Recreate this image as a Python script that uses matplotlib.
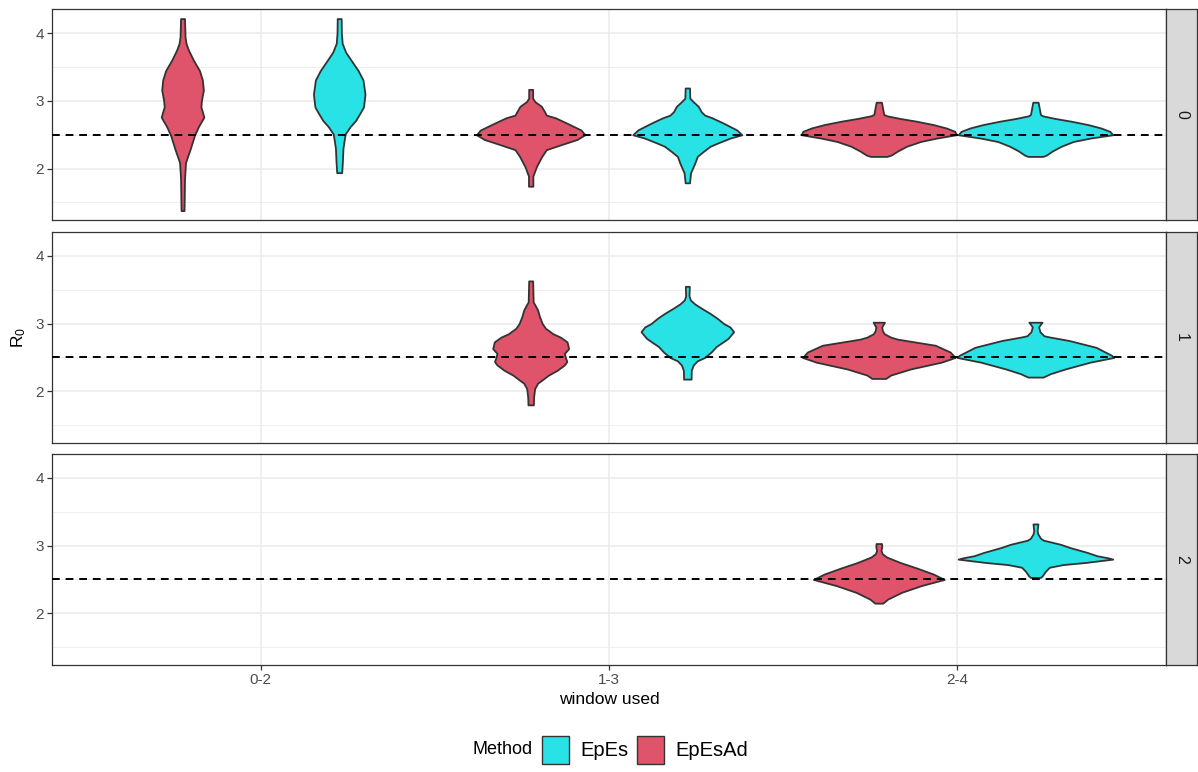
import numpy as np
import matplotlib.pyplot as plt
from matplotlib.patches import Rectangle

plt.rcParams['font.family'] = ['Liberation Sans', 'DejaVu Sans']

windows = ["0-2", "1-3", "2-4"]
lags = ["0", "1", "2"]
methods = ["EpEs", "EpEsAd"]
colors = {"EpEs": "#28E2E5", "EpEsAd": "#DF536B"}
true_r0 = 2.5

# violin outlines: R0 level and density (half width, px)
lag0_02_epesad_y = [1.38, 1.55, 1.85, 2.09, 2.28, 2.49, 2.62, 2.76, 2.84, 2.91, 3.0, 3.16, 3.31, 3.45, 3.6, 3.75, 3.85, 3.95, 4.215]
lag0_02_epesad_d = [1.5, 1.7, 2.0, 3.0, 7.5, 12, 16, 21.5, 20, 18.5, 19, 21, 20, 17, 11, 6, 3.5, 2.5, 2]
lag0_02_epes_y = [1.94, 2.1, 2.3, 2.42, 2.51, 2.62, 2.71, 2.82, 2.91, 3.1, 3.31, 3.45, 3.6, 3.72, 3.85, 4.0, 4.215]
lag0_02_epes_d = [2.5, 3.2, 3.8, 5, 6, 11, 16.5, 21, 24.5, 26, 24, 19, 12, 6.5, 3, 2.2, 2]

lag0_13_epesad_y = [1.74, 1.89, 2.03, 2.18, 2.28, 2.35, 2.43, 2.5, 2.57, 2.67, 2.75, 2.79, 2.84, 2.92, 2.99, 3.04, 3.17]
lag0_13_epesad_d = [2.2, 2.2, 5.8, 11.2, 15.8, 30, 46.7, 54.7, 50.8, 36.7, 25, 15.8, 14, 10.8, 4.2, 2, 2]
lag0_13_epes_y = [1.79, 1.94, 2.08, 2.18, 2.25, 2.33, 2.38, 2.45, 2.5, 2.57, 2.67, 2.75, 2.79, 2.84, 2.92, 2.99, 3.04, 3.19]
lag0_13_epes_d = [2.2, 3.3, 7.5, 10, 15.8, 23, 31, 43, 55, 50, 36.7, 25, 17.5, 14, 11, 5.8, 2.5, 2.2]

lag0_24_epesad_y = [2.18, 2.2, 2.26, 2.33, 2.4, 2.45, 2.5, 2.55, 2.6, 2.65, 2.7, 2.74, 2.78, 2.8, 2.98]
lag0_24_epesad_d = [8.3, 12.5, 19, 28, 42, 58, 78, 76.7, 68, 55, 38, 21.7, 8, 5, 2.7]
lag0_24_epes_y = [2.18, 2.2, 2.26, 2.33, 2.4, 2.45, 2.5, 2.55, 2.6, 2.65, 2.7, 2.74, 2.78, 2.8, 2.98]
lag0_24_epes_d = [7.5, 11, 17, 26, 38, 55, 78, 75, 66, 53, 36, 20, 7, 5, 2.7]

lag1_13_epesad_y = [1.80, 1.92, 2.04, 2.12, 2.17, 2.24, 2.31, 2.39, 2.44, 2.5, 2.56, 2.63, 2.73, 2.8, 2.85, 2.93, 3.0, 3.1, 3.2, 3.27, 3.32, 3.63]
lag1_13_epesad_d = [2.7, 3, 4, 7, 11.7, 18, 26.7, 34, 36.5, 35, 34, 38.3, 36.7, 30, 22.5, 15, 11.7, 9, 7, 4.5, 2.5, 2]
lag1_13_epes_y = [2.18, 2.31, 2.39, 2.45, 2.5, 2.58, 2.66, 2.78, 2.88, 2.95, 3.0, 3.08, 3.15, 3.22, 3.29, 3.35, 3.41, 3.55]
lag1_13_epes_d = [3.8, 4, 6, 10, 17.5, 24, 29, 41, 46.7, 43, 36.7, 30, 23, 15, 7.5, 3, 1.7, 2]

lag1_24_epesad_y = [2.19, 2.24, 2.33, 2.43, 2.5, 2.58, 2.68, 2.77, 2.8, 2.85, 2.9, 2.95, 2.99, 3.02]
lag1_24_epesad_d = [7, 12, 32, 63, 77, 72, 57, 19, 12, 5.5, 3.5, 3, 4.5, 5.7]
lag1_24_epes_y = [2.21, 2.26, 2.33, 2.43, 2.5, 2.53, 2.65, 2.75, 2.8, 2.82, 2.88, 2.95, 2.99, 3.02]
lag1_24_epes_d = [7.6, 15, 30, 55, 79, 77, 61, 34, 15, 8.6, 4.5, 3.2, 5, 6.7]

lag2_24_epesad_y = [2.15, 2.21, 2.31, 2.41, 2.5, 2.58, 2.67, 2.75, 2.83, 2.88, 2.93, 2.98, 3.03]
lag2_24_epesad_d = [4, 9, 23, 43, 66, 55, 38, 21.7, 8, 3.5, 2.2, 3, 2.8]
lag2_24_epes_y = [2.53, 2.55, 2.62, 2.68, 2.72, 2.75, 2.8, 2.82, 2.85, 2.9, 2.97, 3.02, 3.08, 3.11, 3.17, 3.22, 3.32]
lag2_24_epes_d = [5, 6.7, 10, 14, 28, 50, 78, 73, 62, 52, 35, 25, 8, 5, 2.5, 1.7, 2.5]

violins = [
    ("0", "0-2", "EpEsAd", lag0_02_epesad_y, lag0_02_epesad_d),
    ("0", "0-2", "EpEs", lag0_02_epes_y, lag0_02_epes_d),
    ("0", "1-3", "EpEsAd", lag0_13_epesad_y, lag0_13_epesad_d),
    ("0", "1-3", "EpEs", lag0_13_epes_y, lag0_13_epes_d),
    ("0", "2-4", "EpEsAd", lag0_24_epesad_y, lag0_24_epesad_d),
    ("0", "2-4", "EpEs", lag0_24_epes_y, lag0_24_epes_d),
    ("1", "1-3", "EpEsAd", lag1_13_epesad_y, lag1_13_epesad_d),
    ("1", "1-3", "EpEs", lag1_13_epes_y, lag1_13_epes_d),
    ("1", "2-4", "EpEsAd", lag1_24_epesad_y, lag1_24_epesad_d),
    ("1", "2-4", "EpEs", lag1_24_epes_y, lag1_24_epes_d),
    ("2", "2-4", "EpEsAd", lag2_24_epesad_y, lag2_24_epesad_d),
    ("2", "2-4", "EpEs", lag2_24_epes_y, lag2_24_epes_d),
]

W, H = 1198, 772
fig = plt.figure(figsize=(W / 100, H / 100), dpi=100)

# shared y range with ggplot-like 5% expansion
all_y = np.concatenate([v[3] for v in violins])
rng = all_y.max() - all_y.min()
ylo, yhi = all_y.min() - 0.05 * rng, all_y.max() + 0.05 * rng

# widest violin gets half of the 0.9 dodge width
dmax = max(max(v[4]) for v in violins)
dscale = 0.225 / dmax
dodge = {"EpEsAd": -0.225, "EpEs": 0.225}

left, right = 52 / W, 1166 / W
strip_w = 31 / W
panel_tops = [9, 231.7, 453.7]
panel_h = 211.2

grey20 = "#333333"
for i, lag in enumerate(lags):
    bottom = 1 - (panel_tops[i] + panel_h) / H
    ax = fig.add_axes([left, bottom, right - left, panel_h / H])
    ax.set_xlim(0.4, 3.6)
    ax.set_ylim(ylo, yhi)
    ax.set_xticks([1, 2, 3])
    ax.set_xticklabels(windows)
    ax.set_yticks([2, 3, 4])
    ax.set_yticks([1.5, 2.5, 3.5], minor=True)
    ax.set_axisbelow(True)
    ax.grid(which="major", color="#EBEBEB", lw=1.1)
    ax.grid(which="minor", axis="y", color="#EBEBEB", lw=0.6)
    ax.tick_params(which="major", color=grey20, length=3.8, width=0.9,
                   labelsize=11, labelcolor="#4D4D4D", pad=2)
    ax.tick_params(which="minor", length=0)
    if i < 2:
        ax.tick_params(axis="x", length=0, labelbottom=False)
    for s in ax.spines.values():
        s.set_color(grey20)
        s.set_linewidth(0.9)

    for lag_v, win, meth, ys, ds in violins:
        if lag_v != lag:
            continue
        xc = windows.index(win) + 1 + dodge[meth]
        ys = np.array(ys)
        half = np.array(ds) * dscale
        ax.fill_betweenx(ys, xc - half, xc + half, facecolor=colors[meth],
                         edgecolor=grey20, lw=1.3, joinstyle="round", zorder=2)

    ax.axhline(true_r0, color="black", lw=1.4, linestyle=(0, (4, 3)), zorder=3)

    sax = fig.add_axes([right, bottom, strip_w, panel_h / H])
    sax.set_facecolor("#D9D9D9")
    sax.set_xticks([])
    sax.set_yticks([])
    for s in sax.spines.values():
        s.set_color(grey20)
        s.set_linewidth(0.9)
    sax.text(0.5, 0.5, lag, rotation=-90, ha="center", va="center",
             fontsize=11.5, color="#1A1A1A", transform=sax.transAxes)

fig.text((left + right) / 2, 1 - 699 / H, "window used", ha="center", va="center", fontsize=12.5)
fig.text(19 / W, 1 - 337 / H, r"$\mathregular{R_0}$", rotation=90, ha="center", va="center", fontsize=12.5)

# legend
ly = 1 - 750 / H
fig.text(472 / W, ly, "Method", ha="left", va="center", fontsize=13)
key = 27.7
for meth, kx, tx in [("EpEs", 541.7, 580), ("EpEsAd", 636.7, 675)]:
    fig.add_artist(Rectangle((kx / W, ly - key / 2 / H), key / W, key / H,
                             transform=fig.transFigure, facecolor=colors[meth],
                             edgecolor=grey20, lw=1.0))
    fig.text(tx / W, ly, meth, ha="left", va="center", fontsize=14.5)

fig.savefig("out.png", dpi=100)
